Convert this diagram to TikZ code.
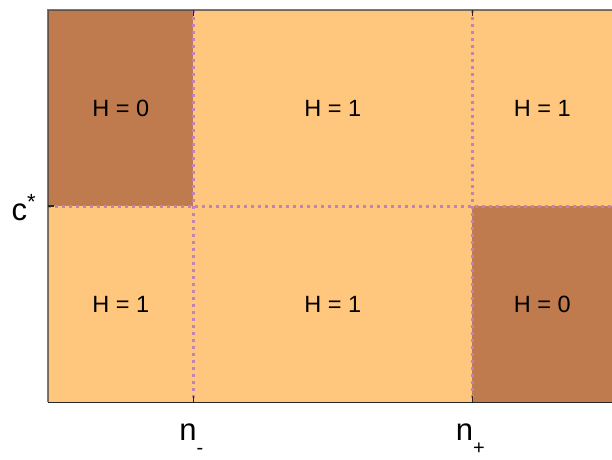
\documentclass[tikz,border=0pt]{standalone}
\usepackage{fontspec}
\setmainfont{Liberation Sans}
\usepackage{tikz}
\usetikzlibrary{positioning}

\definecolor{hlow}{HTML}{BF7A4D}
\definecolor{hhigh}{HTML}{FFC67D}
\definecolor{cut}{HTML}{C084B4}

\newcommand{\lowsub}[1]{\raisebox{-0.45em}{\fontsize{20}{20}\selectfont #1}}

\begin{document}
\begin{tikzpicture}[
  x=1pt, y=-1pt,
  cell/.style={fill=#1, draw=none, inner sep=0pt, anchor=north west,
               align=center, font=\fontsize{23.5}{28}\selectfont},
  cell/.default=hhigh,
  cutline/.style={draw=cut, line width=3pt, dash pattern=on 3pt off 4pt},
  frame/.style={draw=black!75, line width=1.6pt, opacity=0.7},
  tick/.style={draw=black!85, line width=1.2pt},
  axlbl/.style={font=\fontsize{31}{34}\selectfont, inner sep=0pt},
]
\useasboundingbox (0,0) rectangle (612,459);

%% --- Celdas ---
\node[cell=hlow, minimum width=145pt, minimum height=196pt] (tl) at (48,10) {H = 0};
\node[cell, minimum width=279pt, minimum height=196pt] (tm) at (193,10) {H = 1};
\node[cell, minimum width=140pt, minimum height=196pt] (tr) at (472,10) {H = 1};
\node[cell, minimum width=145pt, minimum height=196pt] (bl) at (48,206) {H = 1};
\node[cell, minimum width=279pt, minimum height=196pt] (bm) at (193,206) {H = 1};
\node[cell=hlow, minimum width=140pt, minimum height=196pt] (br) at (472,206) {H = 0};

%% --- Cortes ---
\draw[cutline] (tl.north east) -- (bl.south east);
\draw[cutline] (tm.north east) -- (bm.south east);
\draw[cutline] (bl.north west) -- (br.north east);

%% --- Marco ---
\draw[frame] (bl.south west) -- (tl.north west) -- (tr.north east);
\draw[draw=black!85, line width=1.6pt] (bl.south west) -- (br.south east);

%% --- Marcas ---
\draw[tick] (tl.north east) -- ++(0,6);
\draw[tick] (tm.north east) -- ++(0,6);
\draw[tick] (bl.south east) -- ++(0,-6);
\draw[tick] (bm.south east) -- ++(0,-6);
\draw[tick] (bl.north west) -- ++(6,0);

%% --- Etiquetas de ejes ---
\node[axlbl, left=12pt of bl.north west, yshift=-2pt] (cstar) {c\raisebox{0.35em}{\fontsize{22}{22}\selectfont *}};
\node[axlbl, below=21pt of bl.south east, xshift=-2pt] (nminus) {n\lowsub{-}};
\node[axlbl, below=21pt of bm.south east, xshift=-2pt] (nplus) {n\lowsub{+}};

\end{tikzpicture}
\end{document}
